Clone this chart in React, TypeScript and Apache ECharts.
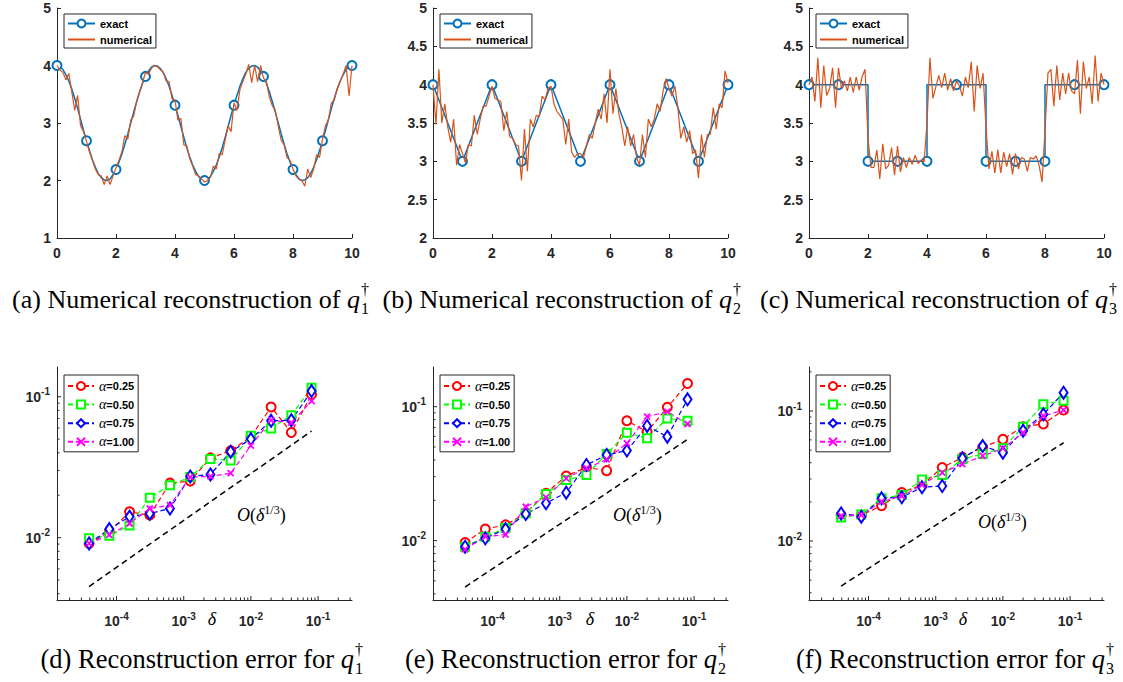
import React, { useEffect, useRef } from "react";
import * as echarts from "echarts";

// ---------- data: top row ----------
const sampleX = Array.from({ length: 101 }, (_, i) => i / 10);

const exactA = [4.00,3.98,3.93,3.84,3.73,3.59,3.43,3.25,3.06,2.87,2.69,2.52,2.36,2.23,2.12,2.05,2.01,2.00,2.03,2.10,2.19,2.32,2.46,2.63,2.81,3.00,3.19,3.37,3.54,3.69,3.81,3.90,3.97,4.00,3.99,3.95,3.88,3.77,3.64,3.48,3.31,3.13,2.94,2.75,2.57,2.41,2.27,2.16,2.07,2.02,2.00,
  2.02,2.07,2.16,2.27,2.41,2.57,2.75,2.94,3.13,3.31,3.48,3.64,3.77,3.88,3.95,3.99,4.00,3.97,3.90,3.81,3.69,3.54,3.37,3.19,3.00,2.81,2.63,2.46,2.32,2.19,2.10,2.03,2.00,2.01,2.05,2.12,2.23,2.36,2.52,2.69,2.87,3.06,3.25,3.43,3.59,3.73,3.84,3.93,3.98,4.00];
const numericalA = [4.00,3.92,3.88,3.75,3.86,3.55,3.22,3.48,2.95,2.85,2.68,2.50,2.35,2.20,2.10,2.08,1.93,2.08,1.93,2.08,2.22,2.35,2.50,2.78,2.72,3.05,3.12,3.38,3.55,3.70,3.88,3.85,3.95,4.00,3.98,3.93,3.88,3.73,3.72,3.42,3.40,3.05,3.08,2.62,2.60,2.38,2.25,2.10,2.08,2.03,1.97,
  2.00,2.05,2.25,2.20,2.47,2.45,2.70,2.95,2.85,3.35,3.22,3.58,3.72,3.85,4.02,3.70,4.00,3.72,4.00,3.78,3.72,3.45,3.30,3.22,2.95,2.70,2.62,2.40,2.35,2.20,2.08,2.02,2.00,1.90,2.20,2.05,2.20,2.45,2.40,2.72,2.95,3.05,3.35,3.40,3.60,3.72,3.85,4.00,3.47,4.00];

const exactBX = [0, 1, 2, 3, 4, 5, 6, 7, 8, 9, 10];
const exactBY = [4, 3, 4, 3, 4, 3, 4, 3, 4, 3, 4];
const numericalB = [4.00,3.48,4.20,3.50,3.75,3.45,3.25,3.55,2.95,3.22,3.10,2.98,3.22,3.20,3.60,3.35,3.55,3.72,3.72,3.85,3.98,3.82,3.80,3.78,3.40,3.65,3.32,3.30,3.22,3.20,2.75,3.42,2.87,3.55,3.45,3.60,3.58,3.85,3.80,3.95,3.98,3.75,3.65,3.60,3.55,3.22,3.55,3.12,3.05,3.10,3.10,
  3.05,3.20,3.35,3.30,3.50,3.68,3.55,3.88,3.50,4.20,3.62,3.95,3.62,3.45,3.20,3.45,3.20,3.35,3.05,2.95,3.35,3.05,3.55,3.45,3.55,3.75,3.65,3.92,4.08,3.95,3.85,3.98,3.70,3.30,3.45,3.25,3.40,3.10,3.15,2.78,3.35,3.05,3.35,3.35,3.70,3.42,3.75,3.70,4.18,4.02];

const exactCX = [0, 1, 2, 2, 3, 4, 4, 5, 6, 6, 7, 8, 8, 9, 10];
const exactCY = [4, 4, 4, 3, 3, 3, 4, 4, 4, 3, 3, 3, 4, 4, 4];
const exactCMarker = [1, 1, 0, 1, 1, 1, 0, 1, 0, 1, 1, 1, 0, 1, 1];
const numericalC = [4.00,4.10,3.78,4.35,3.70,4.25,3.86,3.95,4.22,3.70,4.22,3.95,4.05,3.92,4.10,3.90,4.10,3.93,4.10,4.20,3.30,
  2.92,2.92,3.15,2.77,3.23,2.90,2.95,3.18,2.82,3.20,2.86,3.05,2.92,3.05,2.96,3.08,2.97,3.02,2.99,3.50,
  4.35,3.82,3.97,4.12,3.96,4.15,3.93,4.08,3.92,4.05,3.98,3.85,4.10,3.96,4.30,3.65,4.25,3.95,4.15,3.45,
  2.90,3.13,2.85,3.15,2.85,3.12,2.93,3.10,2.83,3.10,2.90,3.05,3.03,2.87,3.05,3.03,3.07,2.95,2.73,3.40,
  4.15,4.20,3.72,4.25,3.80,4.15,3.88,4.15,3.92,3.88,4.32,3.62,4.30,3.95,4.10,3.75,4.38,3.78,4.15,4.00];

// ---------- data: bottom row ----------
const deltas = [3.90625e-5, 7.8125e-5, 1.5625e-4, 3.125e-4, 6.25e-4, 1.25e-3, 2.5e-3, 5e-3, 1e-2, 2e-2, 4e-2, 8e-2];

const errD025 = [0.0091, 0.0110, 0.01525, 0.01445, 0.0244, 0.0252, 0.0368, 0.0414, 0.0520, 0.0846, 0.0557, 0.1038];
const errD050 = [0.0099, 0.0103, 0.0122, 0.0192, 0.0235, 0.0269, 0.0362, 0.0352, 0.0528, 0.0596, 0.0739, 0.1157];
const errD075 = [0.0091, 0.0115, 0.0141, 0.0148, 0.0161, 0.0272, 0.0281, 0.0407, 0.0501, 0.0675, 0.0681, 0.1096];
const errD100 = [0.0091, 0.01045, 0.0126, 0.0161, 0.0170, 0.0269, 0.0272, 0.0287, 0.0450, 0.0681, 0.0656, 0.0931];

const errE025 = [0.00966, 0.0122, 0.0131, 0.0160, 0.0226, 0.0304, 0.0352, 0.0333, 0.0786, 0.0650, 0.0989, 0.149];
const errE050 = [0.0090, 0.0107, 0.0124, 0.0160, 0.0223, 0.0284, 0.0309, 0.0444, 0.0639, 0.0581, 0.0818, 0.0786];
const errE075 = [0.0090, 0.0104, 0.0122, 0.0158, 0.0190, 0.0228, 0.0367, 0.0436, 0.0470, 0.0718, 0.0597, 0.1135];
const errE100 = [0.0086, 0.0107, 0.0111, 0.0179, 0.0210, 0.0292, 0.0347, 0.0404, 0.0532, 0.0842, 0.0918, 0.0743];

const errF025 = [0.0158, 0.0158, 0.0187, 0.0236, 0.0270, 0.0367, 0.0440, 0.0526, 0.0606, 0.0757, 0.0794, 0.1018];
const errF050 = [0.0152, 0.0160, 0.0213, 0.0226, 0.0298, 0.0322, 0.0428, 0.0467, 0.0516, 0.0757, 0.1125, 0.120];
const errF075 = [0.0163, 0.0154, 0.0213, 0.0217, 0.0259, 0.0265, 0.0433, 0.0538, 0.0478, 0.0706, 0.0942, 0.1384];
const errF100 = [0.0156, 0.0158, 0.0201, 0.0222, 0.0270, 0.0336, 0.0391, 0.0451, 0.0516, 0.0681, 0.0916, 0.1018];

const refX = [3.9e-5, 0.08];
const refY = [0.0045, 0.057];

const alphaNames = ["α=0.25", "α=0.50", "α=0.75", "α=1.00"];
const captionsTop = ["(a) Numerical reconstruction of ", "(b) Numerical reconstruction of ", "(c) Numerical reconstruction of "];
const captionsBot = ["(d) Reconstruction error for ", "(e) Reconstruction error for ", "(f) Reconstruction error for "];

// ---------- styles / layout ----------
const AXIS = "#262626";
const SANS = '"Liberation Sans", Arial, Helvetica, sans-serif';
const SERIF = '"Liberation Serif", "Times New Roman", serif';
const BLUE = "#0072BD";
const ORANGE = "#D95319";

const colLeft = [57, 433, 809];
const PW = 295;
const topY = 8, topH = 230;
const botY = 367, botH = 233;
const xLogMin = 1.3e-5, xLogMax = 0.32;
const yLogRanges = [[0.00361, 0.1625], [0.0036, 0.198], [0.00352, 0.218]];

function pow10Label(v: number) {
  const e = Math.log10(v);
  const r = Math.round(e);
  if (Math.abs(e - r) > 1e-6) return "";
  return `{b|10}{s|${r}}`;
}
const powRich = {
  b: { fontSize: 14, fontWeight: "bold", fontFamily: SANS, color: AXIS, lineHeight: 20 },
  s: { fontSize: 10, fontWeight: "bold", fontFamily: SANS, color: AXIS, lineHeight: 10, verticalAlign: "top" },
};

function logTicks(lo: number, hi: number) {
  const out: { v: number; major: boolean }[] = [];
  for (let k = -6; k <= 0; k++) {
    for (let m = 1; m <= 9; m++) {
      const v = m * Math.pow(10, k);
      if (v >= lo * 1.0001 && v <= hi * 0.9999) out.push({ v, major: m === 1 });
    }
  }
  return out;
}

function buildOption() {
  const grid: any[] = [];
  const xAxis: any[] = [];
  const yAxis: any[] = [];
  const series: any[] = [];
  const legend: any[] = [];
  const graphic: any[] = [];

  const linAxisCommon = {
    axisLine: { show: true, lineStyle: { color: AXIS, width: 1 } },
    axisTick: { show: true, inside: true, length: 4, lineStyle: { color: AXIS, width: 1 } },
    splitLine: { show: false },
    minorTick: { show: false },
  };

  // top row
  for (let i = 0; i < 3; i++) {
    grid.push({ left: colLeft[i], top: topY, width: PW, height: topH, outerBoundsMode: "none", containLabel: false });
    xAxis.push({
      type: "value", gridIndex: i, min: 0, max: 10, interval: 2, ...linAxisCommon,
      axisLabel: { color: AXIS, fontWeight: "bold", fontSize: 14, fontFamily: SANS, margin: 8 },
    });
    yAxis.push({
      type: "value", gridIndex: i, min: i === 0 ? 1 : 2, max: 5, interval: i === 0 ? 1 : 0.5, ...linAxisCommon,
      axisLabel: { color: AXIS, fontWeight: "bold", fontSize: 14, fontFamily: SANS, margin: 6, lineHeight: 14 },
    });
    legend.push({
      left: colLeft[i] + 7, top: 14, orient: "vertical",
      data: [{ name: "exact" }, { name: "numerical", itemStyle: { opacity: 0 } }],
      itemWidth: 27, itemHeight: 10, itemGap: 5, padding: [4, 4, 3, 3],
      borderColor: AXIS, borderWidth: 1, backgroundColor: "#fff", selectedMode: false,
      textStyle: { fontFamily: SANS, fontWeight: "bold", fontSize: 11, color: "#000" },
    });
  }

  const exactSeries = (i: number, xs: number[], ys: number[], marker: (k: number) => boolean) => ({
    type: "line", name: "exact", xAxisIndex: i, yAxisIndex: i,
    data: xs.map((x, k) => ({ value: [x, ys[k]], symbol: marker(k) ? "emptyCircle" : "none" })),
    symbol: "emptyCircle", symbolSize: 9, showAllSymbol: true,
    lineStyle: { color: BLUE, width: 1.5 }, itemStyle: { color: BLUE, borderWidth: 1.5 }, z: 2,
  });
  const numSeries = (i: number, ys: number[]) => ({
    type: "line", name: "numerical", xAxisIndex: i, yAxisIndex: i,
    data: sampleX.map((x, k) => [x, ys[k]]), symbol: "none",
    lineStyle: { color: ORANGE, width: 1.2 }, itemStyle: { color: ORANGE }, z: 3,
  });
  series.push(exactSeries(0, sampleX, exactA, (k) => k % 10 === 0));
  series.push(numSeries(0, numericalA));
  series.push(exactSeries(1, exactBX, exactBY, () => true));
  series.push(numSeries(1, numericalB));
  series.push(exactSeries(2, exactCX, exactCY, (k) => exactCMarker[k] === 1));
  series.push(numSeries(2, numericalC));

  // bottom row
  const errSets = [
    [errD025, errD050, errD075, errD100],
    [errE025, errE050, errE075, errE100],
    [errF025, errF050, errF075, errF100],
  ];
  const styles = [
    { color: "#FF0000", symbol: "emptyCircle", size: 9 },
    { color: "#00FF00", symbol: "emptyRect", size: 8 },
    { color: "#0000FF", symbol: "emptyDiamond", size: [8, 12] },
    { color: "#FF00FF", symbol: "path://M0,0L10,10M10,0L0,10", size: 6 },
  ];
  const oPos = [[237, 515], [613, 515], [978, 522]];
  const deltaPos = [212, 590, 963];

  for (let j = 0; j < 3; j++) {
    const gi = 3 + j;
    const [ylo, yhi] = yLogRanges[j];
    grid.push({ left: colLeft[j], top: botY, width: PW, height: botH, outerBoundsMode: "none", containLabel: false });
    xAxis.push({
      type: "log", logBase: 10, gridIndex: gi, min: xLogMin, max: xLogMax,
      axisLine: { show: true, lineStyle: { color: AXIS, width: 1 } },
      axisTick: { show: false }, minorTick: { show: false }, splitLine: { show: false },
      axisLabel: { formatter: pow10Label, rich: powRich, margin: 11, showMinLabel: true, showMaxLabel: true },
    });
    yAxis.push({
      type: "log", logBase: 10, gridIndex: gi, min: ylo, max: yhi,
      axisLine: { show: true, lineStyle: { color: AXIS, width: 1 } },
      axisTick: { show: false }, minorTick: { show: false }, splitLine: { show: false },
      axisLabel: { formatter: pow10Label, rich: powRich, margin: 7 },
    });

    errSets[j].forEach((arr, a) => {
      const st = styles[a];
      series.push({
        type: "line", name: alphaNames[a], xAxisIndex: gi, yAxisIndex: gi,
        data: deltas.map((d, k) => [d, arr[k]]),
        symbol: st.symbol, symbolSize: st.size,
        lineStyle: { color: st.color, width: 1.2, type: [5, 3] },
        itemStyle: { color: st.color, borderColor: st.color, borderWidth: a === 3 ? 1.8 : 1.2 },
        z: 3,
      });
    });
    series.push({
      type: "line", name: "ref", xAxisIndex: gi, yAxisIndex: gi,
      data: refX.map((x, k) => [x, refY[k]]), symbol: "none",
      lineStyle: { color: "#000", width: 1.5, type: [6, 4] }, z: 2,
    });

    // ticks (major + minor) drawn through the axes' own scales
    const tickData: number[][] = [];
    logTicks(xLogMin, xLogMax).forEach((t) => tickData.push([t.v, ylo, 0, t.major ? 4 : 2.5]));
    logTicks(ylo, yhi).forEach((t) => tickData.push([xLogMin, t.v, 1, t.major ? 4 : 2.5]));
    series.push({
      type: "custom", xAxisIndex: gi, yAxisIndex: gi, silent: true, z: 5,
      encode: { x: 0, y: 1 }, data: tickData,
      renderItem: (_p: any, api: any) => {
        const p = api.coord([api.value(0), api.value(1)]);
        const kind = api.value(2), len = api.value(3);
        const shape = kind === 0
          ? { x1: p[0], y1: p[1], x2: p[0], y2: p[1] - len }
          : { x1: p[0], y1: p[1], x2: p[0] + len, y2: p[1] };
        return { type: "line", shape, style: { stroke: AXIS, lineWidth: 1 } };
      },
    });

    legend.push({
      left: colLeft[j] + 7, top: 375, orient: "vertical",
      data: alphaNames.map((n) => ({ name: n })),
      itemWidth: 26, itemHeight: 10, itemGap: 4.6, padding: [4, 4, 3, 3],
      borderColor: AXIS, borderWidth: 1, backgroundColor: "#fff", selectedMode: false,
      formatter: (name: string) => `{a|α}{b|${name.slice(1)}}`,
      textStyle: {
        color: "#000",
        rich: {
          a: { fontFamily: SERIF, fontStyle: "italic", fontSize: 14, color: "#000" },
          b: { fontFamily: SANS, fontWeight: "bold", fontSize: 11, color: "#000" },
        },
      },
    });

    graphic.push({
      type: "text", x: oPos[j][0], y: oPos[j][1], silent: true,
      style: {
        text: "{i|O}{r|(}{i|δ}{s|1/3}{r|)}", verticalAlign: "middle", align: "left",
        rich: {
          i: { fontFamily: SERIF, fontStyle: "italic", fontSize: 18, color: "#000", lineHeight: 22 },
          r: { fontFamily: SERIF, fontSize: 18, color: "#000", lineHeight: 22 },
          s: { fontFamily: SERIF, fontSize: 12, color: "#000", lineHeight: 12, verticalAlign: "top" },
        },
      },
    });
    graphic.push({
      type: "text", x: deltaPos[j], y: 619, silent: true,
      style: {
        text: "δ", fontFamily: SERIF, fontStyle: "italic", fontSize: 18, fill: "#000",
        align: "center", verticalAlign: "middle",
      },
    });
  }

  // captions
  const capAnchors = [[360, 732, 1108], [354, 717, 1105]];
  const capY = [299, 659];
  const capSize = [26, 26.5];
  [captionsTop, captionsBot].forEach((caps, row) => {
    const CAP = capSize[row];
    caps.forEach((c, i) => {
      const ax = capAnchors[row][i];
      const cy = capY[row];
      graphic.push({
        type: "text", x: ax, y: cy, silent: true,
        style: {
          text: `${c}{q|q}`, fontFamily: SERIF, fontSize: CAP, fill: "#000",
          align: "right", verticalAlign: "middle",
          rich: { q: { fontFamily: SERIF, fontStyle: "italic", fontSize: CAP, color: "#000" } },
        },
      });
      graphic.push({
        type: "text", x: ax + 1, y: cy - 10, silent: true,
        style: { text: "†", fontFamily: SERIF, fontSize: 16, fill: "#000", align: "left", verticalAlign: "middle" },
      });
      graphic.push({
        type: "text", x: ax + 1, y: cy + 9, silent: true,
        style: { text: String(i + 1), fontFamily: SERIF, fontSize: 16, fill: "#000", align: "left", verticalAlign: "middle" },
      });
    });
  });

  return {
    animation: false,
    backgroundColor: "#ffffff",
    textStyle: { fontFamily: SANS },
    grid, xAxis, yAxis, series, legend, graphic,
    tooltip: { show: false },
  };
}

export default function App() {
  const ref = useRef<HTMLDivElement>(null);
  useEffect(() => {
    if (!ref.current) return;
    const chart = echarts.init(ref.current, undefined, { renderer: "svg" });
    chart.setOption(buildOption() as any);
    return () => chart.dispose();
  }, []);
  return (
    <div
      ref={ref}
      style={{ position: "absolute", left: 0, top: 0, width: 1123, height: 682, background: "#fff" }}
    />
  );
}
